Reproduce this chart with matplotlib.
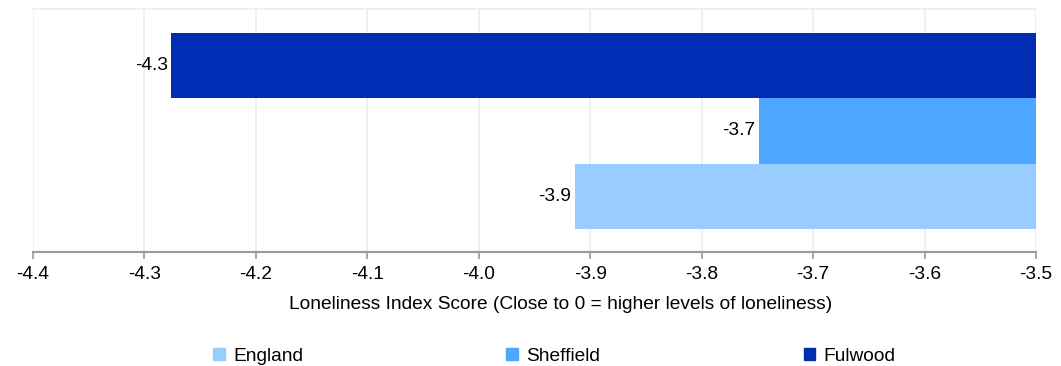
import matplotlib.pyplot as plt
from matplotlib.patches import Patch

plt.rcParams['font.family'] = ['Liberation Sans', 'DejaVu Sans']

# data (bottom to top)
areas = ['England', 'Sheffield', 'Fulwood']
scores = [-3.914, -3.749, -4.276]
colors = ['#99ccff', '#4da6ff', '#002db3']
base = -3.5
ticks = [-4.4, -4.3, -4.2, -4.1, -4.0, -3.9, -3.8, -3.7, -3.6, -3.5]

fs = 13.8

fig = plt.figure(figsize=(10.61, 3.66), dpi=100)
ax = fig.add_axes([0.0311, 0.3115, 0.9454, 0.6639])

ypos = range(len(areas))
ax.barh(ypos, [s - base for s in scores], left=base, height=1.0, color=colors, zorder=2)
for y, s in zip(ypos, scores):
    ax.text(s - 0.003, y, f'{s:.1f}', ha='right', va='center', fontsize=fs, color='#000000', zorder=3)

ax.set_xlim(-4.4, -3.5)
ax.set_ylim(-0.852, 2.867)
ax.set_xticks(ticks)
ax.set_xticklabels([f'{t:.1f}' for t in ticks], fontsize=fs)
ax.set_yticks([])
ax.grid(axis='x', color='#eeeeee', linewidth=1.2, zorder=0)

for side in ['left', 'right']:
    ax.spines[side].set_visible(False)
ax.spines['top'].set_color('#eeeeee')
ax.spines['top'].set_linewidth(1.2)
ax.spines['bottom'].set_color('#999999')
ax.spines['bottom'].set_linewidth(1.5)
ax.tick_params(axis='x', direction='out', length=5, width=1.2, color='#999999', pad=5)

ax.set_xlabel('Loneliness Index Score (Close to 0 = higher levels of loneliness)', fontsize=fs)
ax.xaxis.set_label_coords(0.526, -0.18)

handles = [Patch(color=c) for c in colors]
fig.legend(handles, areas, loc='center', bbox_to_anchor=(0.5226, 0.026), ncol=3, frameon=False,
           fontsize=fs, handlelength=0.6, handleheight=0.6, handletextpad=0.45, columnspacing=10.6)

fig.savefig('out.png', dpi=100)
